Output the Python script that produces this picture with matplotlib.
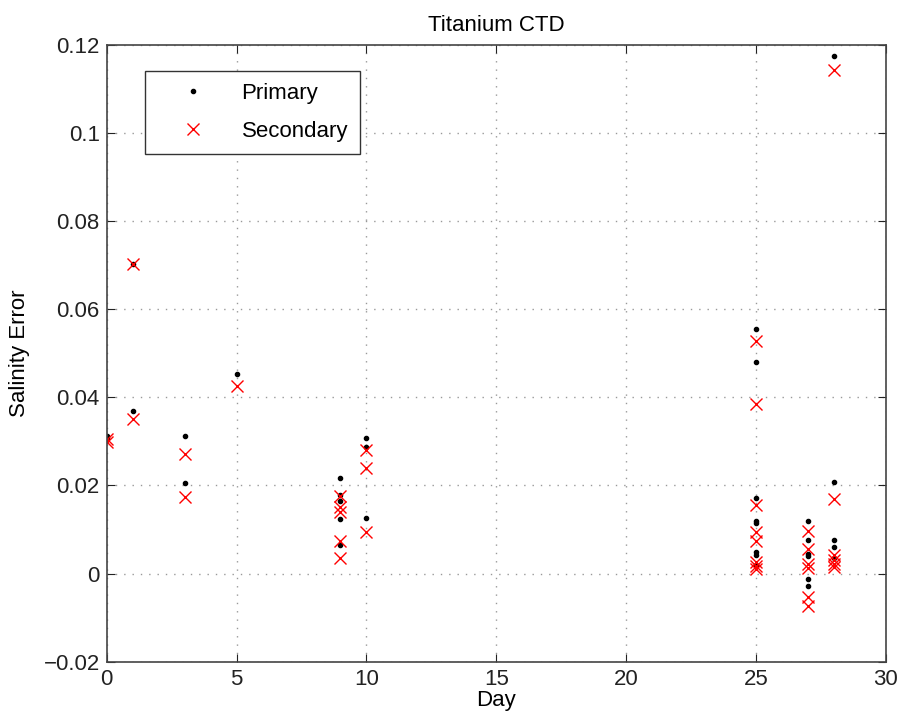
import numpy as np
import matplotlib.pyplot as plt

plt.rcParams['font.family'] = ['Liberation Sans', 'DejaVu Sans']

# day and salinity error for each cast
primary_day = [0, 0, 1, 1, 3, 3, 5,
               9, 9, 9, 9, 9, 10, 10, 10,
               25, 25, 25, 25, 25, 25, 25, 25,
               27, 27, 27, 27, 27, 27,
               28, 28, 28, 28, 28]
primary_err = [0.0312, 0.0308, 0.0702, 0.0370, 0.0313, 0.0206, 0.0452,
               0.0217, 0.0178, 0.0164, 0.0124, 0.0065, 0.0308, 0.0287, 0.0127,
               0.0555, 0.0480, 0.0172, 0.0119, 0.0114, 0.0048, 0.0043, 0.0020,
               0.0120, 0.0077, 0.0045, 0.0039, -0.0013, -0.0028,
               0.1174, 0.0208, 0.0077, 0.0061, 0.0035]

secondary_day = [0, 0, 1, 1, 3, 3, 5,
                 9, 9, 9, 9, 9, 10, 10, 10,
                 25, 25, 25, 25, 25, 25, 25, 25,
                 27, 27, 27, 27, 27, 27,
                 28, 28, 28, 28, 28, 28]
secondary_err = [0.0305, 0.0298, 0.0703, 0.0352, 0.0272, 0.0175, 0.0425,
                 0.0177, 0.0151, 0.0139, 0.0073, 0.0035, 0.0281, 0.0240, 0.0094,
                 0.0527, 0.0384, 0.0156, 0.0094, 0.0075, 0.0026, 0.0018, 0.0011,
                 0.0096, 0.0056, 0.0022, 0.0013, -0.0054, -0.0073,
                 0.1142, 0.0170, 0.0042, 0.0030, 0.0022, 0.0014]

xticks = [0, 5, 10, 15, 20, 25, 30]
yticks = [-0.02, 0, 0.02, 0.04, 0.06, 0.08, 0.1, 0.12]
ytick_labels = ['\u22120.02', '0', '0.02', '0.04', '0.06', '0.08', '0.1', '0.12']

fig = plt.figure(figsize=(9.04, 7.24), dpi=100)
ax = fig.add_axes([0.118, 0.086, 0.862, 0.852])

ax.plot(primary_day, primary_err, '.', color='black', markersize=6, label='Primary')
ax.plot(secondary_day, secondary_err, 'x', color='red', markersize=9,
        markeredgewidth=1.0, label='Secondary')

ax.set_xlim(0, 30)
ax.set_ylim(-0.02, 0.12)
ax.set_xticks(xticks)
ax.set_yticks(yticks)
ax.set_yticklabels(ytick_labels)
ax.tick_params(direction='in', length=6, labelsize=16, colors='#222222',
               top=True, right=True)
ax.tick_params(axis='x', pad=5)
ax.tick_params(axis='y', pad=5)
ax.grid(True, linestyle=(0, (1, 5)), color='#999999', linewidth=1.0)
for s in ax.spines.values():
    s.set_color('#444444')
    s.set_linewidth(1.2)

ax.set_xlabel('Day', fontsize=16, labelpad=0)
ax.set_ylabel('Salinity Error', fontsize=16, labelpad=10)
ax.set_title('Titanium CTD', fontsize=16, pad=10)

leg = ax.legend(loc='upper left', bbox_to_anchor=(0.049, 0.958), fontsize=16,
                fancybox=False, edgecolor='#333333', framealpha=1,
                borderpad=0.55, labelspacing=0.75, handlelength=3.2,
                handletextpad=0.6, borderaxespad=0)
leg.get_frame().set_linewidth(1.0)

fig.savefig('out.png', dpi=100)
